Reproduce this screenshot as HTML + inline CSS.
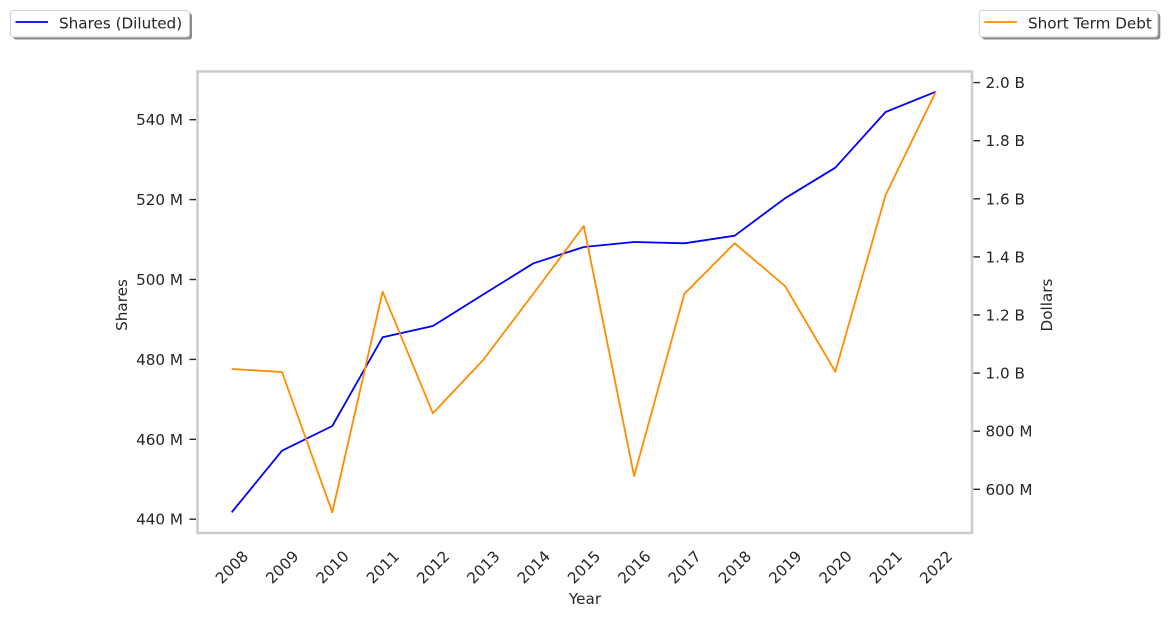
<!DOCTYPE html>
<html>
<head>
<meta charset="utf-8">
<style>
  html, body { margin: 0; padding: 0; background: #ffffff; }
  svg { display: block; }
  text { font-family: "DejaVu Sans", "Liberation Sans", sans-serif; fill: #262626; font-size: 15.2px; }
</style>
</head>
<body>
<svg width="1169" height="618" viewBox="0 0 1169 618" xmlns="http://www.w3.org/2000/svg">
  <rect x="0" y="0" width="1169" height="618" fill="#ffffff"/>

  <!-- Plot frame -->
  <rect x="197.5" y="71.5" width="774.5" height="461.5" fill="#ffffff" stroke="#cccccc" stroke-width="2.5"/>

  <!-- Left ticks -->
  <g stroke="#262626" stroke-width="1.4">
    <line x1="189.5" y1="119.7" x2="196" y2="119.7"/>
    <line x1="189.5" y1="199.6" x2="196" y2="199.6"/>
    <line x1="189.5" y1="279.5" x2="196" y2="279.5"/>
    <line x1="189.5" y1="359.4" x2="196" y2="359.4"/>
    <line x1="189.5" y1="439.3" x2="196" y2="439.3"/>
    <line x1="189.5" y1="519.2" x2="196" y2="519.2"/>
  </g>
  <g text-anchor="end">
    <text x="183" y="125.2">540 M</text>
    <text x="183" y="205.1">520 M</text>
    <text x="183" y="285">500 M</text>
    <text x="183" y="364.9">480 M</text>
    <text x="183" y="444.8">460 M</text>
    <text x="183" y="524.7">440 M</text>
  </g>

  <!-- Right ticks -->
  <g stroke="#262626" stroke-width="1.4">
    <line x1="973.5" y1="82.6" x2="980" y2="82.6"/>
    <line x1="973.5" y1="140.7" x2="980" y2="140.7"/>
    <line x1="973.5" y1="198.8" x2="980" y2="198.8"/>
    <line x1="973.5" y1="256.9" x2="980" y2="256.9"/>
    <line x1="973.5" y1="315" x2="980" y2="315"/>
    <line x1="973.5" y1="373.1" x2="980" y2="373.1"/>
    <line x1="973.5" y1="431.2" x2="980" y2="431.2"/>
    <line x1="973.5" y1="489.3" x2="980" y2="489.3"/>
  </g>
  <g text-anchor="start">
    <text x="985.5" y="88.1">2.0 B</text>
    <text x="985.5" y="146.2">1.8 B</text>
    <text x="985.5" y="204.3">1.6 B</text>
    <text x="985.5" y="262.4">1.4 B</text>
    <text x="985.5" y="320.5">1.2 B</text>
    <text x="985.5" y="378.6">1.0 B</text>
    <text x="985.5" y="436.7">800 M</text>
    <text x="985.5" y="494.8">600 M</text>
  </g>

  <!-- X tick labels (rotated 45) -->
  <g text-anchor="middle">
    <text x="231.7" y="572.5" transform="rotate(-45 231.7 567)">2008</text>
    <text x="282" y="572.5" transform="rotate(-45 282 567)">2009</text>
    <text x="332.3" y="572.5" transform="rotate(-45 332.3 567)">2010</text>
    <text x="382.6" y="572.5" transform="rotate(-45 382.6 567)">2011</text>
    <text x="432.9" y="572.5" transform="rotate(-45 432.9 567)">2012</text>
    <text x="483.2" y="572.5" transform="rotate(-45 483.2 567)">2013</text>
    <text x="533.5" y="572.5" transform="rotate(-45 533.5 567)">2014</text>
    <text x="583.8" y="572.5" transform="rotate(-45 583.8 567)">2015</text>
    <text x="634.1" y="572.5" transform="rotate(-45 634.1 567)">2016</text>
    <text x="684.4" y="572.5" transform="rotate(-45 684.4 567)">2017</text>
    <text x="734.7" y="572.5" transform="rotate(-45 734.7 567)">2018</text>
    <text x="785" y="572.5" transform="rotate(-45 785 567)">2019</text>
    <text x="835.3" y="572.5" transform="rotate(-45 835.3 567)">2020</text>
    <text x="885.6" y="572.5" transform="rotate(-45 885.6 567)">2021</text>
    <text x="935.9" y="572.5" transform="rotate(-45 935.9 567)">2022</text>
  </g>

  <!-- Axis labels -->
  <text x="585" y="604" text-anchor="middle">Year</text>
  <text x="0" y="0" text-anchor="middle" transform="translate(127 305) rotate(-90)">Shares</text>
  <text x="0" y="0" text-anchor="middle" transform="translate(1052 305) rotate(-90)">Dollars</text>

  <!-- Series: Shares (Diluted) -->
  <polyline fill="none" stroke="#0000ff" stroke-width="1.8" stroke-linejoin="round"
    points="231.7,512.3 282,450.7 332.3,426 382.6,337.3 432.9,326 483.2,294.5 533.5,263.3 583.8,247 634.1,242 684.4,243.3 734.7,235.7 785,198.3 835.3,167.7 885.6,112 935.9,91.7"/>

  <!-- Series: Short Term Debt -->
  <polyline fill="none" stroke="#ff8c00" stroke-width="1.8" stroke-linejoin="round"
    points="231.7,369 282,372 332.3,512.3 382.6,291.7 432.9,413.3 483.2,360 533.5,293.5 583.8,226 634.1,476 684.4,293.7 734.7,243.3 785,286 835.3,371.7 885.6,195 935.9,91.7"/>

  <!-- Legend left -->
  <rect x="13" y="13" width="179" height="26.5" rx="3" fill="#8a8a8a"/>
  <rect x="10.5" y="10.5" width="179" height="26.5" rx="3" fill="#ffffff" stroke="#d0d0d0" stroke-width="1"/>
  <line x1="15.5" y1="22" x2="48" y2="22" stroke="#0000ff" stroke-width="1.8"/>
  <text x="59" y="28.5">Shares (Diluted)</text>

  <!-- Legend right -->
  <rect x="981.8" y="13" width="178.5" height="26.5" rx="3" fill="#8a8a8a"/>
  <rect x="979.3" y="10.5" width="178.5" height="26.5" rx="3" fill="#ffffff" stroke="#d0d0d0" stroke-width="1"/>
  <line x1="984.3" y1="22" x2="1017" y2="22" stroke="#ff8c00" stroke-width="1.8"/>
  <text x="1028" y="28.5">Short Term Debt</text>
</svg>
</body>
</html>
